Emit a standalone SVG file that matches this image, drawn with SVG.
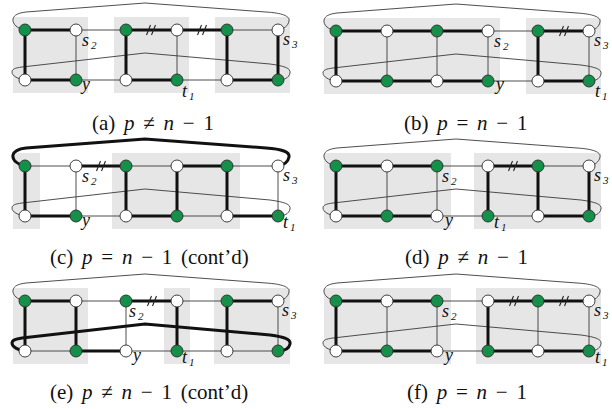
<svg xmlns="http://www.w3.org/2000/svg" width="612" height="409" viewBox="0 0 612 409">
<style>
.box{fill:#e6e6e6;stroke:none}
.thin{stroke:#3a3a3a;stroke-width:0.9;fill:none}
.thick{stroke:#111;stroke-width:3;fill:none}
.mk{stroke:#222;stroke-width:1.1;fill:none}
.g{fill:#14904a;stroke:#2a2a2a;stroke-width:0.9}
.w{fill:#fff;stroke:#2a2a2a;stroke-width:0.9}
.lbl{font-family:"Liberation Serif","Times New Roman",serif;font-style:italic;font-size:18px;fill:#111}
.sub{font-size:11px}
.cap{font-family:"Liberation Serif","Times New Roman",serif;font-size:21px;word-spacing:3.5px;fill:#111}
.it{font-style:italic}
</style>
<defs>
<path id="toparc" d="M25,30 C18,29 12,24 13,19 C14,15 18,13 26,12 L145,3 L266,12 C282,13 290,16 289,21 C288,26 284,29 278,30"/>
<path id="midarc" d="M25,80 C18,79 12,76 12,72 C12,69 15,68 22,67 L145,53 L270,64 C284,66 291,68 290,73 C289,78 284,80 278,80"/>
<g id="mark"><line x1="-4.5" y1="35" x2="-0.5" y2="25"/><line x1="0.5" y1="35" x2="4.5" y2="25"/></g>
</defs>

<!-- Panel (a) -->
<g id="panel-a">
<g id="a-boxes"><rect class="box" x="13" y="17" width="75" height="76"/><rect class="box" x="114" y="17" width="75" height="76"/><rect class="box" x="215" y="17" width="75" height="76"/></g>
<g id="a-connectors">
<use href="#toparc" class="thin"/><use href="#midarc" class="thin"/>
<line class="thin" x1="76" y1="30" x2="126" y2="30"/><line class="thin" x1="227" y1="30" x2="278" y2="30"/>
<line class="thin" x1="76" y1="80" x2="126" y2="80"/><line class="thin" x1="177" y1="80" x2="227" y2="80"/>
<line class="thin" x1="76" y1="30" x2="76" y2="80"/><line class="thin" x1="177" y1="30" x2="177" y2="80"/>
<line class="thick" x1="25" y1="30" x2="76" y2="30"/><line class="thick" x1="126" y1="30" x2="177" y2="30"/><line class="thick" x1="177" y1="30" x2="227" y2="30"/>
<line class="thick" x1="25" y1="80" x2="76" y2="80"/><line class="thick" x1="126" y1="80" x2="177" y2="80"/><line class="thick" x1="227" y1="80" x2="278" y2="80"/>
<line class="thick" x1="25" y1="30" x2="25" y2="80"/><line class="thick" x1="126" y1="30" x2="126" y2="80"/><line class="thick" x1="227" y1="30" x2="227" y2="80"/><line class="thick" x1="278" y1="30" x2="278" y2="80"/>
<use href="#mark" class="mk" x="151" y="0"/><use href="#mark" class="mk" x="202" y="0"/>
</g>
<g id="a-T1"><circle class="g" cx="25" cy="30" r="6"/></g><g id="a-T2"><circle class="w" cx="76" cy="30" r="6"/></g><g id="a-T3"><circle class="g" cx="126" cy="30" r="6"/></g><g id="a-T4"><circle class="w" cx="177" cy="30" r="6"/></g><g id="a-T5"><circle class="g" cx="227" cy="30" r="6"/></g><g id="a-T6"><circle class="w" cx="278" cy="30" r="6"/></g>
<g id="a-B1"><circle class="w" cx="25" cy="80" r="6"/></g><g id="a-B2"><circle class="g" cx="76" cy="80" r="6"/></g><g id="a-B3"><circle class="w" cx="126" cy="80" r="6"/></g><g id="a-B4"><circle class="g" cx="177" cy="80" r="6"/></g><g id="a-B5"><circle class="w" cx="227" cy="80" r="6"/></g><g id="a-B6"><circle class="g" cx="278" cy="80" r="6"/></g>
<text class="lbl" x="82" y="46">s<tspan class="sub" dx="2" dy="3">2</tspan></text>
<text class="lbl" x="82" y="90">y</text>
<text class="lbl" x="182" y="97">t<tspan class="sub" dx="2" dy="3">1</tspan></text>
<text class="lbl" x="283" y="45">s<tspan class="sub" dx="2" dy="3">3</tspan></text>
<text class="cap" x="92" y="130">(a) <tspan class="it">p</tspan> ≠ <tspan class="it">n</tspan> − 1</text>
</g>

<!-- Panel (b) -->
<g id="panel-b" transform="translate(311,1)">
<g id="b-boxes"><rect class="box" x="13" y="17" width="176" height="76"/><rect class="box" x="215" y="17" width="75" height="76"/></g>
<g id="b-connectors">
<use href="#toparc" class="thin"/><use href="#midarc" class="thin"/>
<line class="thin" x1="177" y1="30" x2="227" y2="30"/><line class="thin" x1="177" y1="80" x2="227" y2="80"/>
<line class="thin" x1="76" y1="30" x2="76" y2="80"/><line class="thin" x1="126" y1="30" x2="126" y2="80"/><line class="thin" x1="177" y1="30" x2="177" y2="80"/><line class="thin" x1="278" y1="30" x2="278" y2="80"/>
<line class="thick" x1="25" y1="30" x2="177" y2="30"/><line class="thick" x1="227" y1="30" x2="278" y2="30"/>
<line class="thick" x1="25" y1="80" x2="177" y2="80"/><line class="thick" x1="227" y1="80" x2="278" y2="80"/>
<line class="thick" x1="25" y1="30" x2="25" y2="80"/><line class="thick" x1="227" y1="30" x2="227" y2="80"/>
<use href="#mark" class="mk" x="253" y="0"/>
</g>
<g id="b-T1"><circle class="g" cx="25" cy="30" r="6"/></g><g id="b-T2"><circle class="w" cx="76" cy="30" r="6"/></g><g id="b-T3"><circle class="g" cx="126" cy="30" r="6"/></g><g id="b-T4"><circle class="w" cx="177" cy="30" r="6"/></g><g id="b-T5"><circle class="g" cx="227" cy="30" r="6"/></g><g id="b-T6"><circle class="w" cx="278" cy="30" r="6"/></g>
<g id="b-B1"><circle class="w" cx="25" cy="80" r="6"/></g><g id="b-B2"><circle class="g" cx="76" cy="80" r="6"/></g><g id="b-B3"><circle class="w" cx="126" cy="80" r="6"/></g><g id="b-B4"><circle class="g" cx="177" cy="80" r="6"/></g><g id="b-B5"><circle class="w" cx="227" cy="80" r="6"/></g><g id="b-B6"><circle class="g" cx="278" cy="80" r="6"/></g>
<text class="lbl" x="183" y="46">s<tspan class="sub" dx="2" dy="3">2</tspan></text>
<text class="lbl" x="185" y="89">y</text>
<text class="lbl" x="283" y="45">s<tspan class="sub" dx="2" dy="3">3</tspan></text>
<text class="lbl" x="284" y="96">t<tspan class="sub" dx="2" dy="3">1</tspan></text>
<text class="cap" x="93" y="129">(b) <tspan class="it">p</tspan> = <tspan class="it">n</tspan> − 1</text>
</g>

<!-- Panel (c) -->
<g id="panel-c" transform="translate(0,136)">
<g id="c-boxes"><rect class="box" x="13" y="17" width="27" height="76"/><rect class="box" x="112" y="17" width="128" height="76"/></g>
<g id="c-connectors">
<use href="#midarc" class="thin"/>
<line class="thin" x1="25" y1="30" x2="76" y2="30"/><line class="thin" x1="126" y1="30" x2="177" y2="30"/><line class="thin" x1="227" y1="30" x2="278" y2="30"/>
<line class="thin" x1="76" y1="80" x2="126" y2="80"/><line class="thin" x1="177" y1="80" x2="227" y2="80"/>
<line class="thin" x1="76" y1="30" x2="76" y2="80"/><line class="thin" x1="278" y1="30" x2="278" y2="80"/>
<use href="#toparc" class="thick"/>
<line class="thick" x1="76" y1="30" x2="126" y2="30"/><line class="thick" x1="177" y1="30" x2="227" y2="30"/>
<line class="thick" x1="25" y1="80" x2="76" y2="80"/><line class="thick" x1="126" y1="80" x2="177" y2="80"/><line class="thick" x1="227" y1="80" x2="278" y2="80"/>
<line class="thick" x1="25" y1="30" x2="25" y2="80"/><line class="thick" x1="126" y1="30" x2="126" y2="80"/><line class="thick" x1="177" y1="30" x2="177" y2="80"/><line class="thick" x1="227" y1="30" x2="227" y2="80"/>
<use href="#mark" class="mk" x="101" y="0"/>
</g>
<g id="c-T1"><circle class="g" cx="25" cy="30" r="6"/></g><g id="c-T2"><circle class="w" cx="76" cy="30" r="6"/></g><g id="c-T3"><circle class="g" cx="126" cy="30" r="6"/></g><g id="c-T4"><circle class="w" cx="177" cy="30" r="6"/></g><g id="c-T5"><circle class="g" cx="227" cy="30" r="6"/></g><g id="c-T6"><circle class="w" cx="278" cy="30" r="6"/></g>
<g id="c-B1"><circle class="w" cx="25" cy="80" r="6"/></g><g id="c-B2"><circle class="g" cx="76" cy="80" r="6"/></g><g id="c-B3"><circle class="w" cx="126" cy="80" r="6"/></g><g id="c-B4"><circle class="g" cx="177" cy="80" r="6"/></g><g id="c-B5"><circle class="w" cx="227" cy="80" r="6"/></g><g id="c-B6"><circle class="g" cx="278" cy="80" r="6"/></g>
<text class="lbl" x="82" y="46">s<tspan class="sub" dx="2" dy="3">2</tspan></text>
<text class="lbl" x="82" y="90">y</text>
<text class="lbl" x="283" y="45">s<tspan class="sub" dx="2" dy="3">3</tspan></text>
<text class="lbl" x="283" y="92">t<tspan class="sub" dx="2" dy="3">1</tspan></text>
<text class="cap" x="50" y="128">(c) <tspan class="it">p</tspan> = <tspan class="it">n</tspan> − 1 (cont’d)</text>
</g>

<!-- Panel (d) -->
<g id="panel-d" transform="translate(311,136)">
<g id="d-boxes"><rect class="box" x="13" y="17" width="127" height="76"/><rect class="box" x="163" y="17" width="127" height="76"/></g>
<g id="d-connectors">
<use href="#toparc" class="thin"/><use href="#midarc" class="thin"/>
<line class="thin" x1="126" y1="30" x2="177" y2="30"/><line class="thin" x1="227" y1="30" x2="278" y2="30"/>
<line class="thin" x1="126" y1="80" x2="227" y2="80"/>
<line class="thin" x1="76" y1="30" x2="76" y2="80"/><line class="thin" x1="126" y1="30" x2="126" y2="80"/>
<line class="thick" x1="25" y1="30" x2="126" y2="30"/><line class="thick" x1="177" y1="30" x2="227" y2="30"/>
<line class="thick" x1="25" y1="80" x2="126" y2="80"/><line class="thick" x1="227" y1="80" x2="278" y2="80"/>
<line class="thick" x1="25" y1="30" x2="25" y2="80"/><line class="thick" x1="177" y1="30" x2="177" y2="80"/><line class="thick" x1="227" y1="30" x2="227" y2="80"/><line class="thick" x1="278" y1="30" x2="278" y2="80"/>
<use href="#mark" class="mk" x="202" y="0"/>
</g>
<g id="d-T1"><circle class="g" cx="25" cy="30" r="6"/></g><g id="d-T2"><circle class="w" cx="76" cy="30" r="6"/></g><g id="d-T3"><circle class="g" cx="126" cy="30" r="6"/></g><g id="d-T4"><circle class="w" cx="177" cy="30" r="6"/></g><g id="d-T5"><circle class="g" cx="227" cy="30" r="6"/></g><g id="d-T6"><circle class="w" cx="278" cy="30" r="6"/></g>
<g id="d-B1"><circle class="w" cx="25" cy="80" r="6"/></g><g id="d-B2"><circle class="g" cx="76" cy="80" r="6"/></g><g id="d-B3"><circle class="w" cx="126" cy="80" r="6"/></g><g id="d-B4"><circle class="g" cx="177" cy="80" r="6"/></g><g id="d-B5"><circle class="w" cx="227" cy="80" r="6"/></g><g id="d-B6"><circle class="g" cx="278" cy="80" r="6"/></g>
<text class="lbl" x="131" y="46">s<tspan class="sub" dx="2" dy="3">2</tspan></text>
<text class="lbl" x="134" y="90">y</text>
<text class="lbl" x="183" y="92">t<tspan class="sub" dx="2" dy="3">1</tspan></text>
<text class="lbl" x="283" y="45">s<tspan class="sub" dx="2" dy="3">3</tspan></text>
<text class="cap" x="94" y="128">(d) <tspan class="it">p</tspan> ≠ <tspan class="it">n</tspan> − 1</text>
</g>

<!-- Panel (e) -->
<g id="panel-e" transform="translate(0,271)">
<g id="e-boxes"><rect class="box" x="13" y="17" width="75" height="76"/><rect class="box" x="164" y="17" width="26" height="76"/><rect class="box" x="214" y="17" width="76" height="76"/></g>
<g id="e-connectors">
<use href="#toparc" class="thin"/>
<line class="thin" x1="76" y1="30" x2="126" y2="30"/><line class="thin" x1="177" y1="30" x2="227" y2="30"/>
<line class="thin" x1="25" y1="80" x2="76" y2="80"/><line class="thin" x1="126" y1="80" x2="278" y2="80"/>
<line class="thin" x1="126" y1="30" x2="126" y2="80"/><line class="thin" x1="278" y1="30" x2="278" y2="80"/>
<line class="thick" x1="25" y1="30" x2="76" y2="30"/><line class="thick" x1="126" y1="30" x2="177" y2="30"/><line class="thick" x1="227" y1="30" x2="278" y2="30"/>
<line class="thick" x1="76" y1="80" x2="126" y2="80"/>
<line class="thick" x1="25" y1="30" x2="25" y2="80"/><line class="thick" x1="76" y1="30" x2="76" y2="80"/><line class="thick" x1="177" y1="30" x2="177" y2="80"/><line class="thick" x1="227" y1="30" x2="227" y2="80"/>
<use href="#midarc" class="thick"/>
<use href="#mark" class="mk" x="152" y="0"/>
</g>
<g id="e-T1"><circle class="g" cx="25" cy="30" r="6"/></g><g id="e-T2"><circle class="w" cx="76" cy="30" r="6"/></g><g id="e-T3"><circle class="g" cx="126" cy="30" r="6"/></g><g id="e-T4"><circle class="w" cx="177" cy="30" r="6"/></g><g id="e-T5"><circle class="g" cx="227" cy="30" r="6"/></g><g id="e-T6"><circle class="w" cx="278" cy="30" r="6"/></g>
<g id="e-B1"><circle class="w" cx="25" cy="80" r="6"/></g><g id="e-B2"><circle class="g" cx="76" cy="80" r="6"/></g><g id="e-B3"><circle class="w" cx="126" cy="80" r="6"/></g><g id="e-B4"><circle class="g" cx="177" cy="80" r="6"/></g><g id="e-B5"><circle class="w" cx="227" cy="80" r="6"/></g><g id="e-B6"><circle class="g" cx="278" cy="80" r="6"/></g>
<text class="lbl" x="129" y="46">s<tspan class="sub" dx="2" dy="3">2</tspan></text>
<text class="lbl" x="133" y="90">y</text>
<text class="lbl" x="182" y="92">t<tspan class="sub" dx="2" dy="3">1</tspan></text>
<text class="lbl" x="282" y="45">s<tspan class="sub" dx="2" dy="3">3</tspan></text>
<text class="cap" x="50" y="128">(e) <tspan class="it">p</tspan> ≠ <tspan class="it">n</tspan> − 1 (cont’d)</text>
</g>

<!-- Panel (f) -->
<g id="panel-f" transform="translate(311,271)">
<g id="f-boxes"><rect class="box" x="13" y="17" width="127" height="76"/><rect class="box" x="165" y="17" width="125" height="76"/></g>
<g id="f-connectors">
<use href="#toparc" class="thin"/><use href="#midarc" class="thin"/>
<line class="thin" x1="126" y1="30" x2="177" y2="30"/><line class="thin" x1="126" y1="80" x2="177" y2="80"/>
<line class="thin" x1="76" y1="30" x2="76" y2="80"/><line class="thin" x1="126" y1="30" x2="126" y2="80"/><line class="thin" x1="227" y1="30" x2="227" y2="80"/><line class="thin" x1="278" y1="30" x2="278" y2="80"/>
<line class="thick" x1="25" y1="30" x2="126" y2="30"/><line class="thick" x1="177" y1="30" x2="278" y2="30"/>
<line class="thick" x1="25" y1="80" x2="126" y2="80"/><line class="thick" x1="177" y1="80" x2="278" y2="80"/>
<line class="thick" x1="25" y1="30" x2="25" y2="80"/><line class="thick" x1="177" y1="30" x2="177" y2="80"/>
<use href="#mark" class="mk" x="203" y="0"/><use href="#mark" class="mk" x="253" y="0"/>
</g>
<g id="f-T1"><circle class="g" cx="25" cy="30" r="6"/></g><g id="f-T2"><circle class="w" cx="76" cy="30" r="6"/></g><g id="f-T3"><circle class="g" cx="126" cy="30" r="6"/></g><g id="f-T4"><circle class="w" cx="177" cy="30" r="6"/></g><g id="f-T5"><circle class="g" cx="227" cy="30" r="6"/></g><g id="f-T6"><circle class="w" cx="278" cy="30" r="6"/></g>
<g id="f-B1"><circle class="w" cx="25" cy="80" r="6"/></g><g id="f-B2"><circle class="g" cx="76" cy="80" r="6"/></g><g id="f-B3"><circle class="w" cx="126" cy="80" r="6"/></g><g id="f-B4"><circle class="g" cx="177" cy="80" r="6"/></g><g id="f-B5"><circle class="w" cx="227" cy="80" r="6"/></g><g id="f-B6"><circle class="g" cx="278" cy="80" r="6"/></g>
<text class="lbl" x="131" y="46">s<tspan class="sub" dx="2" dy="3">2</tspan></text>
<text class="lbl" x="134" y="90">y</text>
<text class="lbl" x="283" y="45">s<tspan class="sub" dx="2" dy="3">3</tspan></text>
<text class="lbl" x="284" y="92">t<tspan class="sub" dx="2" dy="3">1</tspan></text>
<text class="cap" x="96" y="128">(f) <tspan class="it">p</tspan> = <tspan class="it">n</tspan> − 1</text>
</g>
</svg>
